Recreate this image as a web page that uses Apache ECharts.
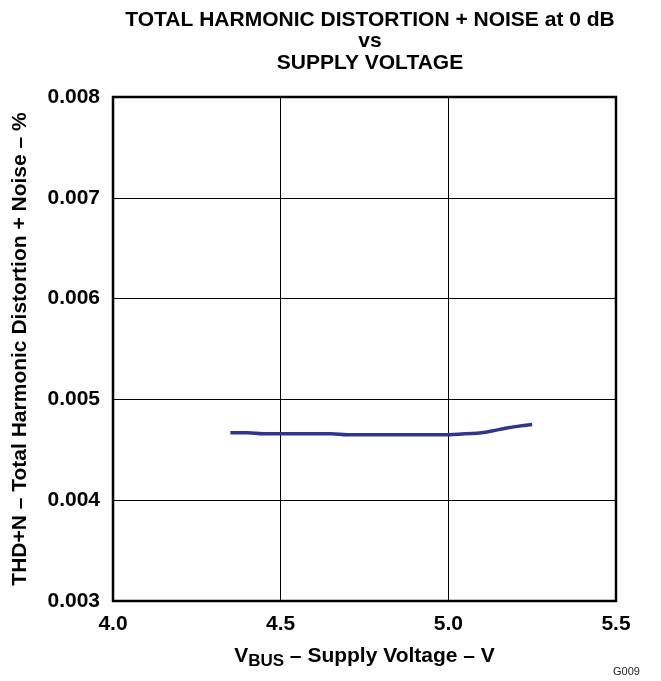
<!DOCTYPE html>
<html>
<head>
<meta charset="utf-8">
<script src="https://cdn.jsdelivr.net/npm/echarts@6/dist/echarts.min.js"></script>
<style>
  html, body { margin: 0; padding: 0; background: #fff; }
  #chart { width: 661px; height: 681px; }
</style>
</head>
<body>
<div id="chart"></div>
<script>
    // supply voltage (V) and THD+N (%)
    var voltage = [4.35, 4.40, 4.45, 4.50, 4.55, 4.60, 4.65, 4.70, 4.75, 4.80, 4.85, 4.90, 4.95, 5.00, 5.05, 5.10, 5.15, 5.20, 5.25];
    var thdn = [0.00467, 0.00467, 0.00466, 0.00466, 0.00466, 0.00466, 0.00466, 0.00465, 0.00465, 0.00465, 0.00465, 0.00465, 0.00465, 0.00465, 0.00466, 0.00467, 0.00470, 0.00473, 0.00475];
    var xTicks = ['4.0', '4.5', '5.0', '5.5'];
    var yTicks = ['0.003', '0.004', '0.005', '0.006', '0.007', '0.008'];

    var font = 'Liberation Sans, Arial, sans-serif';
    var chart = echarts.init(document.getElementById('chart'));

    var points = voltage.map(function (v, i) { return [v, thdn[i]]; });

    chart.setOption({
        animation: false,
        title: {
            text: 'TOTAL HARMONIC DISTORTION + NOISE at 0 dB\nvs\nSUPPLY VOLTAGE',
            left: 365,
            top: 4,
            textAlign: 'center',
            textStyle: {
                fontFamily: font,
                fontWeight: 'bold',
                fontSize: 21,
                lineHeight: 21.5,
                color: '#000'
            }
        },
        grid: {
            left: 113,
            right: 45,
            top: 97,
            bottom: 80,
            show: true,
            borderColor: '#000',
            borderWidth: 2.5,
            containLabel: false
        },
        xAxis: {
            type: 'value',
            min: 4.0,
            max: 5.5,
            interval: 0.5,
            axisLine: { show: false },
            axisTick: { show: false },
            splitLine: { lineStyle: { color: '#000', width: 1 } },
            axisLabel: {
                margin: 13,
                fontFamily: font,
                fontWeight: 'bold',
                fontSize: 21,
                color: '#000',
                formatter: function (v) { return xTicks[Math.round((v - 4.0) / 0.5)]; }
            },
            name: '{v|V}{sub|BUS}{t| – Supply Voltage – V}',
            nameLocation: 'middle',
            nameGap: 42,
            nameTextStyle: {
                rich: {
                    v: { fontFamily: font, fontWeight: 'bold', fontSize: 21, color: '#000' },
                    sub: { fontFamily: font, fontWeight: 'bold', fontSize: 17, color: '#000', verticalAlign: 'bottom', padding: [10, 0, 0, 0] },
                    t: { fontFamily: font, fontWeight: 'bold', fontSize: 21, color: '#000' }
                }
            }
        },
        yAxis: {
            type: 'value',
            min: 0.003,
            max: 0.008,
            interval: 0.001,
            axisLine: { show: false },
            axisTick: { show: false },
            splitLine: { lineStyle: { color: '#000', width: 1 } },
            axisLabel: {
                margin: 13,
                fontFamily: font,
                fontWeight: 'bold',
                fontSize: 21,
                color: '#000',
                formatter: function (v) { return yTicks[Math.round((v - 0.003) / 0.001)]; }
            }
        },
        graphic: [{
            type: 'text',
            x: 20,
            y: 349,
            rotation: Math.PI / 2,
            style: {
                text: 'THD+N – Total Harmonic Distortion + Noise – %',
                font: 'bold 21px ' + font,
                fill: '#000',
                align: 'center',
                verticalAlign: 'middle'
            }
        }, {
            type: 'text',
            left: 613,
            top: 666,
            style: {
                text: 'G009',
                font: '11px ' + font,
                fill: '#222'
            }
        }],
        series: [{
            type: 'line',
            data: points,
            showSymbol: false,
            smooth: true,
            lineStyle: { color: '#2b3595', width: 3.5 }
        }]
    });
</script>
</body>
</html>
